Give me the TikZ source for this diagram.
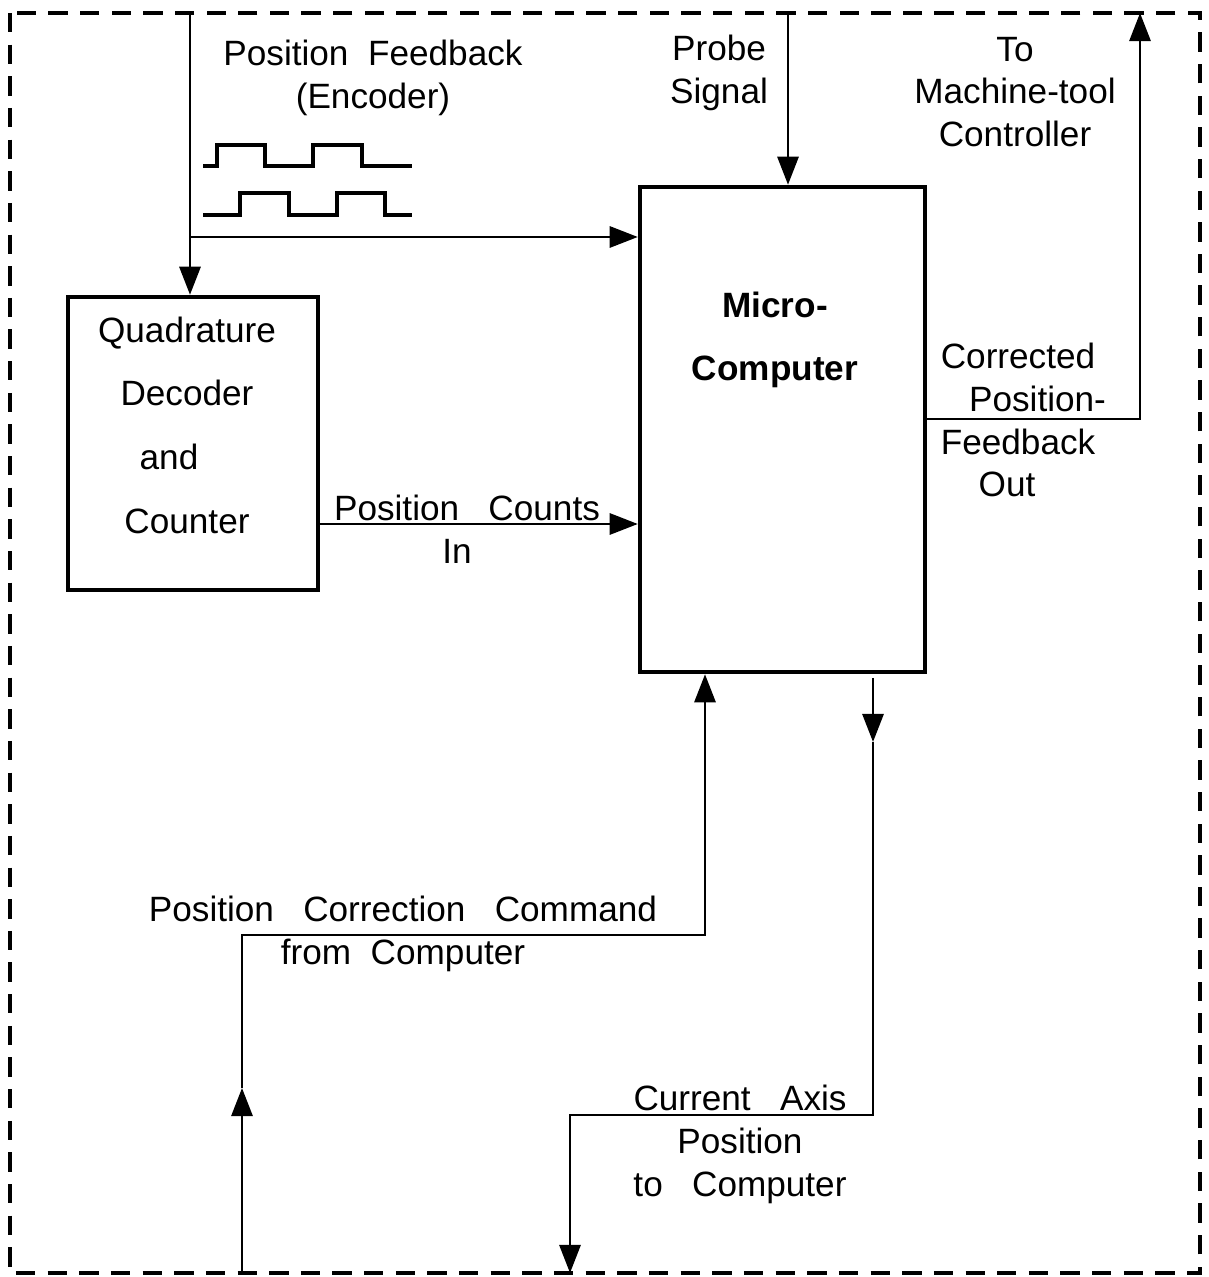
\documentclass[tikz,border=0pt]{standalone}
\usepackage{fontspec}
\setmainfont{Liberation Sans}
\usetikzlibrary{arrows.meta, positioning}

\begin{document}
\begin{tikzpicture}[x=0.01cm, y=-0.01cm,
  blk/.style={draw, line width=1.2pt, inner sep=0pt},
  lbl/.style={align=center, inner sep=0pt, font=\fontsize{10}{12.2}\selectfont},
  arr/.style={-{Triangle[length=8pt, width=6pt]}, line width=0.8pt},
  wire/.style={line width=0.8pt},
  wave/.style={line width=0.9pt},
  border/.style={line width=1.3pt, dash pattern=on 5.5pt off 3.5pt}
]
  \useasboundingbox (0,0) rectangle (1208,1277);
  \draw[border] (10,13) rectangle (1200,1273);

  % blocks
  \node[blk, minimum width=2.5cm, minimum height=2.93cm] (qdc) at (193,443.5) {};
  \node[lbl, font=\fontsize{10}{18.1}\selectfont] (qdctext) at (187,425)
    {Quadrature\\Decoder\\and\rule{0.36cm}{0pt}\\Counter};
  \node[blk, minimum width=2.85cm, minimum height=4.85cm] (mc) at (782.5,429.5) {};
  \node[lbl, font=\bfseries\fontsize{10}{18.1}\selectfont] (mctext) at (775,340)
    {Micro-\\Computer};

  % encoder input
  \coordinate (enc) at (190,13);
  \coordinate (split) at (190,237);
  \draw[arr] (enc) -- (enc |- qdc.north);
  \draw[arr] (split) -- (split -| mc.west);
  \node[lbl] (fb) at (373,78) {Position\ \ Feedback\\(Encoder)};
  \draw[wave] (203,166) -- (217,166) -- (217,145) -- (265,145) -- (265,166)
    -- (313,166) -- (313,145) -- (362,145) -- (362,166) -- (412,166);
  \draw[wave] (203,215) -- (240,215) -- (240,193) -- (289,193) -- (289,215)
    -- (337,215) -- (337,193) -- (385,193) -- (385,215) -- (412,215);

  % probe signal
  \coordinate (probe) at (788,13);
  \draw[arr] (probe) -- (probe |- mc.north);
  \node[lbl] (probetext) at (719,73) {Probe\\Signal};

  % output to machine-tool controller
  \coordinate (outcorner) at (1140,419);
  \coordinate (outtop) at (1140,13);
  \draw[arr] (outcorner -| mc.east) -- (outcorner) -- (outtop);
  \node[lbl] (tooltext) at (1015,92) {To\\Machine-tool\\Controller};
  \node[lbl] (corrtext) at (1018,420) {Corrected\\\ \ \ \ Position-\\Feedback\\Out\hspace*{0.22cm}};

  % position counts
  \coordinate (cnt) at (318,524);
  \draw[arr] (cnt -| qdc.east) -- (cnt -| mc.west);
  \node[lbl] (cnttext) at (467,529) {Position\ \ \ Counts\\In\hspace*{0.2cm}};

  % position correction command
  \coordinate (cmdin) at (242,1273);
  \coordinate (cmdmid) at (242,1088);
  \coordinate (cmdcorner) at (242,935);
  \coordinate (cmdup) at (705,935);
  \draw[arr] (cmdin) -- (cmdmid);
  \draw[arr] (cmdmid) -- (cmdcorner) -- (cmdup) -- (cmdup |- mc.south);
  \node[lbl] (cmdtext) at (403,934) {Position\ \ \ Correction\ \ \ Command\\from\ \ Computer};

  % current axis position
  \coordinate (axstart) at (873,678);
  \coordinate (axmid) at (873,742);
  \coordinate (axcorner) at (873,1115);
  \coordinate (axdown) at (570,1115);
  \coordinate (axout) at (570,1273);
  \draw[arr] (axstart) -- (axmid);
  \draw[arr] (axmid) -- (axcorner) -- (axdown) -- (axout);
  \node[lbl] (axtext) at (740,1144) {Current\ \ \ Axis\\Position\\to\ \ \ Computer};
\end{tikzpicture}
\end{document}
